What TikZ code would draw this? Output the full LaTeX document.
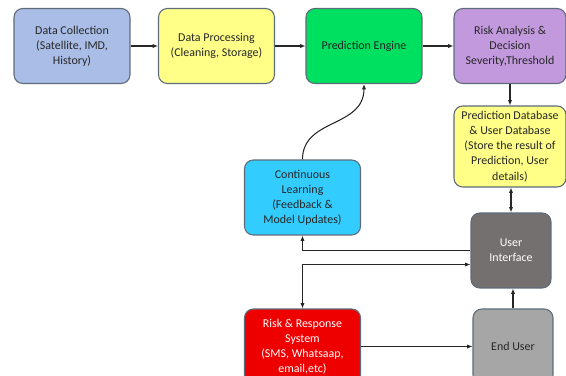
\documentclass[tikz,border=0pt]{standalone}
\usepackage{fontspec}
\setmainfont{Carlito}
\usetikzlibrary{arrows.meta}
\definecolor{colblue}{HTML}{A9BDE6}
\definecolor{colyellow}{HTML}{FFFF88}
\definecolor{colgreen}{HTML}{00E060}
\definecolor{colpurple}{HTML}{C299DD}
\definecolor{colcyan}{HTML}{33CCFF}
\definecolor{coldark}{HTML}{757070}
\definecolor{colred}{HTML}{EE0000}
\definecolor{colgray}{HTML}{A6A6A6}
\definecolor{colborder}{HTML}{5E6B7A}
\tikzstyle{stage} = [rectangle, rounded corners=5pt, draw=colborder, line width=0.6pt, align=center, text=black!85,
	font=\fontsize{6.8}{8.6}\selectfont, minimum width=2.32cm, minimum height=1.5cm, inner sep=1pt]
\tikzstyle{sidestage} = [stage, minimum width=2.24cm]
\tikzstyle{smallstage} = [stage, minimum width=1.6cm]
\tikzstyle{link} = [draw=black!85, line width=0.6pt, -{Latex[length=3pt,width=2.4pt]}]
\tikzstyle{twoway} = [link, {Latex[length=3pt,width=2.4pt]}-{Latex[length=3pt,width=2.4pt]}]

\begin{document}
\begin{tikzpicture}[x=0.02cm, y=-0.02cm]%
				\clip (0,0) rectangle (566,376);%
				\fill[white] (0,0) rectangle (566,376);%
				% top row
				\node [stage, fill=colblue] (collect) at (72,46) {Data Collection\\(Satellite, IMD,\\History)};%
				\node [stage, fill=colyellow] (process) at (216.5,46) {Data Processing\\(Cleaning, Storage)};%
				\node [stage, fill=colgreen] (engine) at (364,46) {Prediction Engine};%
				\node [sidestage, fill=colpurple] (risk) at (510,46) {Risk Analysis \&\\Decision\\Severity,Threshold};%
				% right column
				\node [sidestage, fill=colyellow, minimum height=1.62cm] (store) at (510,146.5) {Prediction Database\\\& User Database\\(Store the result of\\Prediction, User\\details)};%
				\node [smallstage, fill=coldark, text=white] (ui) at (511,250.5) {User\\Interface};%
				\node [smallstage, fill=colgray] (user) at (513,346.5) {End User};%
				% left column
				\node [stage, fill=colcyan] (learn) at (302.5,197.5) {Continuous\\Learning\\(Feedback \&\\Model Updates)};%
				\node [stage, fill=colred, text=white] (alert) at (302.5,346.5) {Risk \& Response\\System\\(SMS, Whatsaap,\\email,etc)};%
				% connectors
				\draw [link] (collect) -- (process);%
				\draw [link] (process) -- (engine);%
				\draw [link] (engine) -- (risk);%
				\draw [link] (risk.south -| store.north) -- (store.north);%
				\draw [twoway] (store.south -| ui.north) -- (ui.north);%
				\draw [link] (learn.north) .. controls (302.5,118) and (364,128) .. (engine.south);%
				\draw [link] (ui.west) -| (learn.south);%
				\draw [twoway] ([yshift=-0.28cm]ui.west) -| (alert.north);%
				\draw [link] (alert.east) -- (alert.east -| user.west);%
				\draw [link] (user.north) -- (user.north |- ui.south);%
	\end{tikzpicture}
\end{document}
